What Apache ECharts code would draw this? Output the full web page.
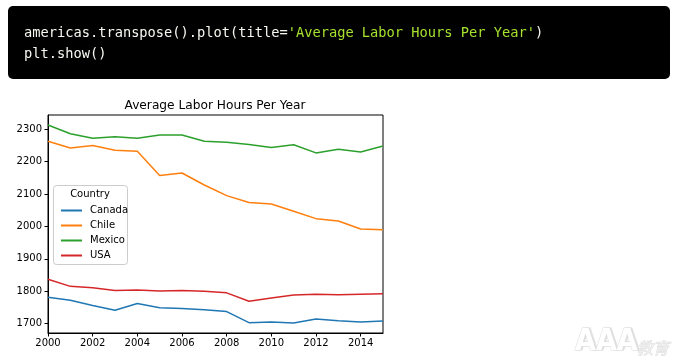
<!DOCTYPE html>
<html>
<head>
<meta charset="utf-8">
<script src="https://cdn.jsdelivr.net/npm/echarts@6/dist/echarts.min.js"></script>
<style>
html,body{margin:0;padding:0;background:#fff;}
#chart{width:683px;height:364px;}
</style>
</head>
<body>
<div id="chart"></div>
<script>
const years = [2000,2001,2002,2003,2004,2005,2006,2007,2008,2009,2010,2011,2012,2013,2014,2015];
const canada = [1781,1772,1756,1741,1762,1749,1747,1743,1737,1703,1705,1702,1714,1709,1705,1708];
const chile  = [2263,2242,2250,2235,2232,2157,2165,2128,2095,2074,2069,2047,2024,2017,1992,1990];
const mexico = [2313,2286,2272,2277,2272,2282,2282,2263,2260,2253,2244,2252,2227,2238,2230,2248];
const usa    = [1837,1815,1811,1802,1804,1801,1802,1800,1795,1769,1779,1788,1791,1789,1791,1792];
const seriesNames = ['Canada','Chile','Mexico','USA'];
const seriesColors = ['#1f77b4','#ff7f0e','#2ca02c','#d62728'];
const yTicks = [1700,1800,1900,2000,2100,2200,2300];
const xTicks = [2000,2002,2004,2006,2008,2010,2012,2014];
const chartTitle = 'Average Labor Hours Per Year';
const legendTitle = 'Country';
const codeLine1a = "americas.transpose().plot(title=";
const codeLine1b = "'Average Labor Hours Per Year'";
const codeLine1c = ")";
const codeLine2 = "plt.show()";

const allData = [canada, chile, mexico, usa];
const chart = echarts.init(document.getElementById('chart'));
const font = 'DejaVu Sans';
chart.setOption({
  animation: false,
  backgroundColor: '#fff',
  grid: {left: 48, right: 300, top: 115, bottom: 31, show: true, borderColor: '#000', borderWidth: 1, backgroundColor: 'transparent'},
  xAxis: {
    type: 'value', min: 2000, max: 2015,
    axisLine: {show: true, lineStyle: {color: '#000', width: 1}},
    axisTick: {show: true, inside: false, length: 3.5, lineStyle: {color: '#000'}, customValues: xTicks},
    axisLabel: {fontFamily: font, fontSize: 10, color: '#000', margin: 5, customValues: xTicks, formatter: v => String(v)},
    splitLine: {show: false}
  },
  yAxis: {
    type: 'value', min: 1671, max: 2344,
    axisLine: {show: true, lineStyle: {color: '#000', width: 1}},
    axisTick: {show: true, inside: false, length: 3.5, lineStyle: {color: '#000'}, customValues: yTicks},
    axisLabel: {fontFamily: font, fontSize: 10, color: '#000', margin: 6, customValues: yTicks, formatter: v => String(v)},
    splitLine: {show: false}
  },
  legend: {
    orient: 'vertical', left: 56, top: 199,
    data: seriesNames,
    icon: 'rect', itemWidth: 21, itemHeight: 2, itemGap: 2,
    textStyle: {fontFamily: font, fontSize: 10, color: '#000', lineHeight: 13, padding: [0,0,0,3]},
    z: 10
  },
  graphic: [
    {type: 'rect', left: 8, top: 6, shape: {width: 662, height: 73, r: 5}, style: {fill: '#000'}},
    {type: 'text', left: 24, top: 26, style: {
      text: '{a|' + codeLine1a + '}{b|' + codeLine1b + '}{a|' + codeLine1c + '}',
      rich: {
        a: {fontFamily: 'DejaVu Sans Mono', fontSize: 13.7, fill: '#f8f8f2'},
        b: {fontFamily: 'DejaVu Sans Mono', fontSize: 13.7, fill: '#a6e22e'}
      }
    }},
    {type: 'text', left: 24, top: 47, style: {text: codeLine2, fontFamily: 'DejaVu Sans Mono', fontSize: 13.7, fill: '#f8f8f2'}},
    {type: 'text', x: 215, y: 100, style: {text: chartTitle, fontFamily: font, fontSize: 12.2, fill: '#000', align: 'center'}},
    {type: 'rect', left: 53, top: 185, z: 5, shape: {width: 74, height: 79, r: 3}, style: {fill: 'rgba(255,255,255,0.8)', stroke: '#cccccc', lineWidth: 1}},
    {type: 'text', x: 90, y: 189, z: 6, style: {text: legendTitle, fontFamily: font, fontSize: 10, fill: '#000', align: 'center'}},
    {type: 'text', x: 575, y: 327, z: 1, style: {
      text: 'AAA', fontFamily: 'DejaVu Sans Condensed', fontWeight: 'bold', fontSize: 30,
      fill: '#ffffff', stroke: '#e2e2e2', lineWidth: 1.2, textShadowColor: '#dddddd', textShadowOffsetX: 1.5, textShadowBlur: 1
    }},
    {type: 'text', x: 637, y: 340, z: 1, style: {
      text: '教育', fontFamily: 'Noto Sans CJK SC', fontSize: 16, fontStyle: 'italic',
      fill: '#f0f0f0', stroke: '#d8d8d8', lineWidth: 0.8
    }}
  ],
  series: seriesNames.map((n, i) => ({
    name: n, type: 'line', showSymbol: false, symbol: 'none',
    data: years.map((y, j) => [y, allData[i][j]]),
    lineStyle: {width: 1.5, color: seriesColors[i]},
    itemStyle: {color: seriesColors[i]},
    z: 2 + i
  }))
});
</script>
</body>
</html>
